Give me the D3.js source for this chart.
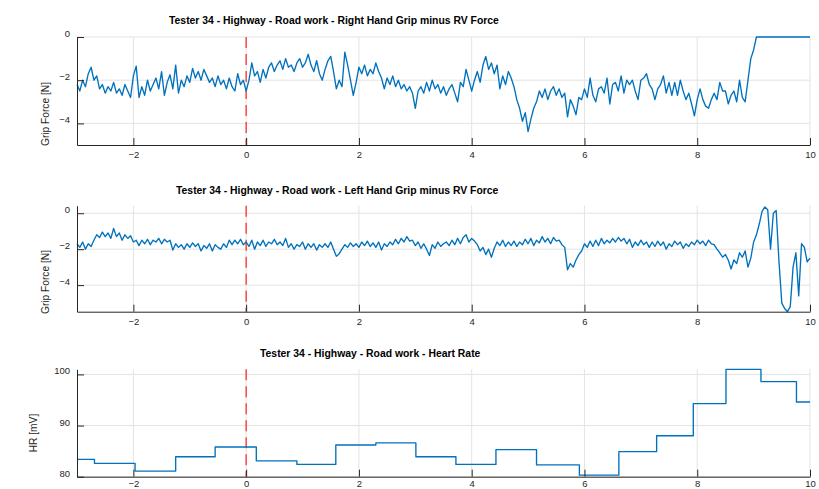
<!DOCTYPE html>
<html><head><meta charset="utf-8">
<script src="https://cdn.jsdelivr.net/npm/d3@7"></script>
<style>
body{margin:0;background:#fff}
svg{display:block;font-family:"Liberation Sans",Arial,Helvetica,sans-serif}
</style>
</head><body><svg id="c" width="819" height="489"></svg>
<script>
// ---- data ----
const sampleStart = -3;      // s
const sampleStep = 0.05;     // s
const rightGrip = [
 -2.2,-2.5,-2.0,-2.3,-1.7,-1.4,-2.0,-1.8,-2.4,-2.2,-2.6,-2.3,-2.5,-2.1,-2.6,-2.4,-2.7,-2.2,-2.5,-2.8,
 -1.8,-1.35,-2.8,-2.3,-2.7,-2.0,-2.5,-2.2,-1.9,-2.4,-1.6,-2.7,-2.1,-1.75,-2.4,-1.3,-2.6,-2.0,-2.3,-1.8,
 -2.1,-1.45,-1.9,-1.6,-2.0,-1.5,-1.8,-2.1,-1.9,-2.3,-1.8,-2.2,-2.0,-2.4,-1.9,-2.3,-2.5,-1.7,-2.2,-2.0,
 -2.5,-2.0,-1.2,-1.8,-1.6,-2.1,-1.5,-1.9,-1.4,-1.2,-1.6,-1.3,-1.1,-1.5,-1.0,-1.4,-1.3,-1.6,-1.2,-1.0,
 -1.4,-1.2,-0.8,-1.3,-1.6,-1.1,-1.7,-2.0,-1.5,-1.1,-0.9,-1.6,-2.4,-2.0,-2.3,-0.7,-1.3,-2.0,-2.7,-2.1,
 -1.4,-1.7,-1.3,-1.8,-1.5,-1.7,-1.2,-1.6,-1.9,-2.4,-1.9,-2.2,-1.8,-2.3,-2.0,-2.4,-2.2,-2.5,-2.3,-2.6,
 -3.3,-2.5,-2.3,-2.6,-2.1,-2.5,-2.0,-2.4,-2.2,-2.6,-2.3,-2.7,-2.4,-2.2,-2.6,-3.0,-2.1,-2.3,-1.5,-2.0,
 -2.5,-2.0,-1.6,-2.1,-1.3,-0.9,-1.5,-1.2,-1.7,-1.3,-2.4,-1.8,-2.2,-1.6,-1.9,-2.3,-2.9,-3.3,-3.9,-3.5,
 -4.38,-3.8,-3.3,-3.0,-2.5,-2.8,-2.4,-2.9,-2.5,-2.3,-2.7,-2.4,-2.8,-2.6,-3.7,-2.9,-3.2,-3.6,-2.8,-2.9,
 -2.4,-2.8,-1.9,-2.7,-3.0,-2.4,-2.3,-2.6,-1.9,-3.1,-2.2,-2.1,-2.5,-1.8,-2.6,-2.0,-2.2,-2.0,-2.5,-2.9,
 -2.0,-1.9,-1.7,-2.2,-2.4,-2.9,-2.4,-2.2,-1.8,-2.6,-2.1,-2.7,-2.1,-2.7,-2.0,-2.5,-2.9,-2.6,-3.1,-3.65,
 -2.9,-2.4,-2.9,-3.2,-3.3,-2.9,-2.6,-2.9,-2.1,-2.5,-2.5,-3.1,-2.7,-2.5,-3.0,-2.0,-2.8,-3.0,-2.0,-1.0,
 -0.6,0,0,0,0,0,0,0,0,0,0,0,0,0,0,0,0,0,0,0,
 0
];
const leftGrip = [
 -1.7,-1.9,-1.6,-2.0,-1.7,-1.85,-1.5,-1.2,-1.35,-1.05,-1.3,-1.1,-1.4,-0.85,-1.3,-1.1,-1.5,-1.2,-1.4,-1.25,
 -1.6,-1.5,-1.8,-1.5,-1.7,-1.45,-1.75,-1.5,-1.6,-1.4,-1.7,-1.45,-1.6,-1.5,-2.05,-1.7,-1.9,-1.75,-2.0,-1.7,
 -1.9,-1.65,-1.85,-1.7,-2.1,-1.8,-1.95,-1.7,-2.1,-1.75,-1.9,-2.0,-1.7,-1.9,-1.5,-1.75,-1.5,-1.7,-1.45,-1.75,
 -1.6,-1.85,-1.5,-2.0,-1.6,-1.8,-1.5,-1.85,-1.6,-1.7,-1.45,-1.75,-1.6,-1.8,-1.4,-1.9,-1.7,-2.0,-1.75,-1.85,
 -1.6,-2.0,-1.7,-1.9,-1.7,-2.05,-1.75,-1.9,-1.7,-1.9,-1.6,-2.0,-2.4,-2.25,-2.0,-1.75,-1.9,-1.65,-1.85,-1.7,
 -1.9,-1.6,-1.8,-1.55,-1.85,-1.65,-1.9,-1.6,-2.05,-1.7,-1.85,-1.6,-1.75,-1.45,-1.7,-1.4,-1.6,-1.3,-1.55,-1.5,
 -1.8,-1.6,-1.95,-1.7,-2.0,-2.35,-1.75,-1.95,-1.6,-1.85,-1.7,-1.6,-1.8,-1.5,-1.75,-1.4,-1.7,-1.35,-1.2,-1.6,
 -1.4,-1.55,-1.75,-2.1,-1.9,-2.3,-2.0,-2.45,-1.95,-1.6,-1.8,-1.5,-1.85,-1.6,-1.8,-1.55,-1.85,-1.6,-1.75,-1.45,
 -1.7,-1.4,-1.8,-1.5,-1.65,-1.3,-1.6,-1.4,-1.7,-1.35,-1.55,-1.5,-1.75,-1.9,-3.15,-2.8,-3.0,-2.6,-2.3,-2.1,
 -1.7,-1.9,-1.55,-1.85,-1.5,-1.8,-1.4,-1.7,-1.5,-1.65,-1.4,-1.6,-1.35,-1.55,-1.4,-1.7,-1.45,-1.9,-1.6,-1.8,
 -1.5,-1.75,-1.6,-1.9,-1.6,-1.85,-1.55,-1.8,-1.6,-2.0,-1.7,-1.85,-1.55,-1.75,-1.6,-1.95,-1.7,-1.85,-1.6,-1.75,
 -1.5,-1.7,-1.55,-1.8,-1.5,-1.7,-1.75,-2.0,-2.2,-2.45,-2.3,-2.6,-3.1,-2.6,-2.8,-2.2,-2.45,-2.1,-3.0,-2.5,
 -1.6,-1.2,-0.6,0.1,0.35,0.2,-2.0,0.0,0.15,-2.7,-5.0,-5.3,-5.48,-5.2,-3.0,-2.2,-4.6,-1.7,-1.9,-2.7,
 -2.5
];
const hrTimes  = [-3, -2.69, -1.97, -1.25, -0.55, 0.18, 0.90, 1.59, 2.30, 3.01, 3.72, 4.43, 5.15, 5.91, 6.61, 7.28, 7.93, 8.51, 9.13, 9.76, 10];
const hrValues = [83.4, 82.6, 81.1, 83.9, 85.8, 83.1, 82.4, 86.2, 86.6, 83.9, 82.4, 85.3, 82.3, 80.3, 84.9, 88.0, 94.3, 101.0, 98.6, 94.6, 94.6];
const xTicks = [-2, 0, 2, 4, 6, 8, 10];
const gripTicks = [-4, -2, 0];
const hrTicks = [80, 90, 100];
const titles = [
  "Tester 34 - Highway - Road work - Right Hand Grip minus RV Force",
  "Tester 34 - Highway - Road work - Left Hand Grip minus RV Force",
  "Tester 34 - Highway - Road work - Heart Rate"
];
const yLabels = ["Grip Force [N]", "Grip Force [N]", "HR [mV]"];
const eventTime = 0;

// ---- drawing ----
const svg = d3.select("#c");
const X0 = 77, X1 = 810;
const x = d3.scaleLinear().domain([-3, 10]).range([X0, X1]);
const times = rightGrip.map((_, i) => sampleStart + i * sampleStep);

const panels = [
  {top: 37,    bottom: 145,   domain: [-5, 0],    ticks: gripTicks, data: times.map((t,i)=>[t, rightGrip[i]]), step:false,
   title: titles[0], titleX: 169, titleY: 24,  ylabel: yLabels[0], labX: 49,   labY: 114, xlabOff: 13.3},
  {top: 205.7, bottom: 311.7, domain: [-5.48, 0.42], ticks: gripTicks, data: times.map((t,i)=>[t, leftGrip[i]]), step:false,
   title: titles[1], titleX: 176, titleY: 193.5, ylabel: yLabels[1], labX: 49, labY: 282, xlabOff: 13.3},
  {top: 369.3, bottom: 476.7, domain: [80, d3.max(hrValues)], ticks: hrTicks, data: hrTimes.map((t,i)=>[t, hrValues[i]]), step:true,
   title: titles[2], titleX: 260, titleY: 356.5, ylabel: yLabels[2], labX: 36.5, labY: 433, xlabOff: 10.3}
];

const gridColor = "#e3e3e3", axisColor = "#262626", lineColor = "#0072BD";

panels.forEach(p => {
  const y = d3.scaleLinear().domain(p.domain).range([p.bottom, p.top]);
  const g = svg.append("g");
  // grid
  g.append("g").selectAll("line").data(xTicks).join("line")
    .attr("x1", d => x(d)).attr("x2", d => x(d))
    .attr("y1", p.top).attr("y2", p.bottom)
    .attr("stroke", gridColor).attr("stroke-width", 1);
  g.append("g").selectAll("line").data(p.ticks).join("line")
    .attr("x1", X0).attr("x2", X1)
    .attr("y1", d => y(d)).attr("y2", d => y(d))
    .attr("stroke", gridColor).attr("stroke-width", 1);
  // event marker
  g.append("line")
    .attr("x1", x(eventTime)).attr("x2", x(eventTime))
    .attr("y1", p.top).attr("y2", p.bottom)
    .attr("stroke", "#ff2020").attr("stroke-width", 1.2)
    .attr("stroke-dasharray", "11,6");
  // data line
  const line = d3.line().x(d => x(d[0])).y(d => y(d[1]));
  if (p.step) line.curve(d3.curveStepAfter);
  g.append("path").datum(p.data)
    .attr("d", line)
    .attr("fill", "none").attr("stroke", lineColor)
    .attr("stroke-width", 1.35).attr("stroke-linejoin", "round");
  // axes
  const ax = g.append("g").attr("transform", `translate(0,${p.bottom})`)
    .call(d3.axisBottom(x).tickValues(xTicks).tickSize(-7).tickSizeOuter(0).tickFormat(d3.format("d")));
  ax.selectAll("text").attr("y", p.xlabOff).attr("dy", 0);
  const ay = g.append("g").attr("transform", `translate(${X0},0)`)
    .call(d3.axisLeft(y).tickValues(p.ticks).tickSize(-7).tickSizeOuter(0).tickPadding(7).tickFormat(d3.format("d")));
  ay.selectAll("text").attr("dy", "-0.05em");
  [ax, ay].forEach(a => {
    a.select(".domain").attr("stroke", axisColor).attr("stroke-width", 1);
    a.selectAll(".tick line").attr("stroke", axisColor).attr("stroke-width", 1);
    a.selectAll("text").attr("fill", axisColor).style("font-size", "9.5px");
  });
  // title
  g.append("text").attr("x", p.titleX).attr("y", p.titleY)
    .attr("font-weight", "bold").attr("font-size", "10.4px").attr("fill", "#000")
    .text(p.title);
  // y label
  g.append("text")
    .attr("transform", `translate(${p.labX},${p.labY}) rotate(-90)`)
    .attr("text-anchor", "middle").attr("font-size", "10.2px").attr("fill", axisColor)
    .text(p.ylabel);
});
</script>
</body></html>
